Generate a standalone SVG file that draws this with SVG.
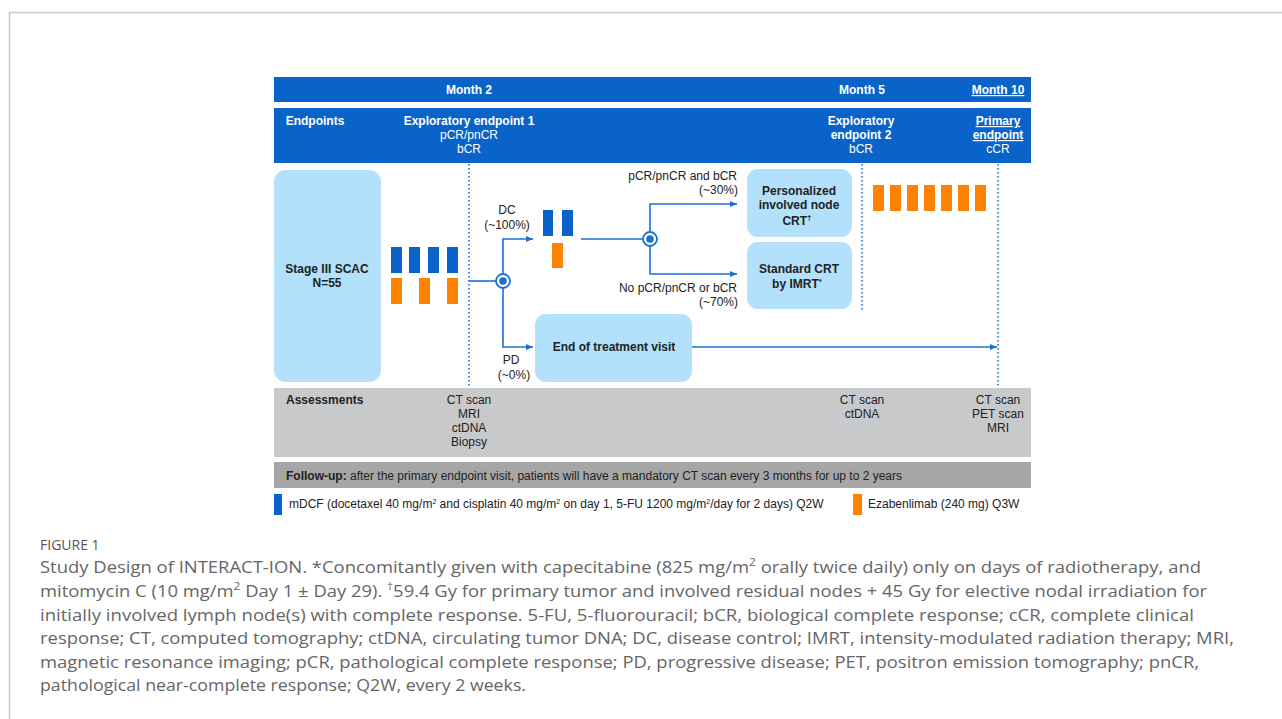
<svg xmlns="http://www.w3.org/2000/svg" width="1282" height="719" viewBox="0 0 1282 719">
<style>
.t{font-family:"Liberation Sans",Arial,sans-serif;font-size:12px;fill:#222}
.w{fill:#fff}
.b{font-weight:bold}
.m{text-anchor:middle}
.e{text-anchor:end}
.u{text-decoration:underline}
.lb{fill:#b3e0fa}
.bl{fill:#0a63c9}
.or{fill:#ff8200}
.cn{stroke:#1a6fd6;stroke-width:1.6;fill:none}
.dot{stroke:#1a6fd6;stroke-width:1.6;stroke-dasharray:1.5 2.5;fill:none}
.cap{font-family:"Open Sans",Lato,sans-serif;fill:#666;font-size:17px}
</style>
<defs>
<marker id="ar" markerWidth="8" markerHeight="8" refX="7" refY="4" orient="auto" markerUnits="userSpaceOnUse">
<path d="M0,1 L7,4 L0,7 Z" fill="#1a6fd6"/>
</marker>
</defs>
<rect width="1282" height="719" fill="#fff"/>
<path d="M9.5,719 V12.5 H1282" stroke="#c8c8c8" stroke-width="1.5" fill="none"/>

<g id="header">
<rect x="274" y="77" width="757" height="25" class="bl"/>
<text x="469" y="94" class="t w b m">Month 2</text>
<text x="862" y="94" class="t w b m">Month 5</text>
<text x="998" y="94" class="t w b m u">Month 10</text>
<rect x="274" y="108" width="757" height="55" class="bl"/>
<text x="315" y="125" class="t w b m">Endpoints</text>
<text x="469" y="125" class="t w b m">Exploratory endpoint 1</text>
<text x="469" y="139" class="t w m">pCR/pnCR</text>
<text x="469" y="153" class="t w m">bCR</text>
<text x="861" y="125" class="t w b m">Exploratory</text>
<text x="861" y="139" class="t w b m">endpoint 2</text>
<text x="861" y="153" class="t w m">bCR</text>
<text x="998" y="125" class="t w b m u">Primary</text>
<text x="998" y="139" class="t w b m u">endpoint</text>
<text x="998" y="153" class="t w m">cCR</text>
</g>

<g id="timelines">
<line x1="469" y1="164" x2="469" y2="388" class="dot"/>
<line x1="862" y1="164" x2="862" y2="310" class="dot"/>
<line x1="998" y1="164" x2="998" y2="388" class="dot"/>
</g>

<g id="stage">
<rect x="274" y="170" width="107" height="212" rx="12" class="lb"/>
<text x="327" y="273" class="t b m">Stage III SCAC</text>
<text x="327" y="287" class="t b m">N=55</text>
</g>

<g id="induction-bars">
<rect x="391" y="247" width="11" height="26" class="bl"/>
<rect x="409" y="247" width="11" height="26" class="bl"/>
<rect x="428" y="247" width="11" height="26" class="bl"/>
<rect x="447" y="247" width="11" height="26" class="bl"/>
<rect x="391" y="278" width="11" height="26" class="or"/>
<rect x="419" y="278" width="11" height="26" class="or"/>
<rect x="447" y="278" width="11" height="26" class="or"/>
</g>

<g id="dc-bars">
<rect x="543" y="210" width="10" height="26" class="bl"/>
<rect x="562" y="210" width="11" height="26" class="bl"/>
<rect x="552" y="243" width="11" height="25" class="or"/>
</g>

<g id="personalized">
<rect x="747" y="169" width="105" height="68" rx="11" class="lb"/>
<text x="799" y="195" class="t b m">Personalized</text>
<text x="799" y="209" class="t b m">involved node</text>
<text x="797" y="225" class="t b m">CRT<tspan style="font-size:8px" dy="-5">†</tspan></text>
</g>

<g id="standard">
<rect x="747" y="242" width="105" height="67" rx="11" class="lb"/>
<text x="799" y="273" class="t b m">Standard CRT</text>
<text x="797" y="288" class="t b m">by IMRT<tspan style="font-size:8px" dy="-4">*</tspan></text>
</g>

<g id="maintenance-bars">
<rect x="873" y="185" width="11" height="26" class="or"/>
<rect x="890" y="185" width="11" height="26" class="or"/>
<rect x="907" y="185" width="11" height="26" class="or"/>
<rect x="924" y="185" width="11" height="26" class="or"/>
<rect x="941" y="185" width="11" height="26" class="or"/>
<rect x="958" y="185" width="11" height="26" class="or"/>
<rect x="975" y="185" width="11" height="26" class="or"/>
</g>

<g id="eot">
<rect x="535" y="314" width="157" height="68" rx="11" class="lb"/>
<text x="614" y="351" class="t b m">End of treatment visit</text>
</g>

<g id="connectors">
<line x1="469" y1="281" x2="496" y2="281" class="cn"/>
<path d="M503,274 V239 H533" class="cn" marker-end="url(#ar)"/>
<path d="M503,288 V347 H533" class="cn" marker-end="url(#ar)"/>
<circle cx="503" cy="281" r="7" fill="#fff" stroke="#1a6fd6" stroke-width="1.8"/>
<circle cx="503" cy="281" r="3.8" fill="#1a6fd6"/>
<line x1="581" y1="239" x2="643" y2="239" class="cn"/>
<path d="M650,232 V204 H737" class="cn" marker-end="url(#ar)"/>
<path d="M650,246 V274 H737" class="cn" marker-end="url(#ar)"/>
<circle cx="650" cy="239" r="7" fill="#fff" stroke="#1a6fd6" stroke-width="1.8"/>
<circle cx="650" cy="239" r="3.8" fill="#1a6fd6"/>
<line x1="692" y1="347" x2="997" y2="347" class="cn" marker-end="url(#ar)"/>
</g>

<g id="labels">
<text x="507" y="214" class="t m">DC</text>
<text x="507" y="229" class="t m">(~100%)</text>
<text x="511" y="364" class="t m">PD</text>
<text x="514" y="379" class="t m">(~0%)</text>
<text x="737" y="180" class="t e">pCR/pnCR and bCR</text>
<text x="738" y="194" class="t e">(~30%)</text>
<text x="737" y="292" class="t e">No pCR/pnCR or bCR</text>
<text x="738" y="306" class="t e">(~70%)</text>
</g>

<g id="assessments">
<rect x="274" y="388" width="757" height="69" fill="#c8c9cb"/>
<text x="286" y="404" class="t b">Assessments</text>
<text x="469" y="404" class="t m">CT scan</text>
<text x="469" y="418" class="t m">MRI</text>
<text x="469" y="432" class="t m">ctDNA</text>
<text x="469" y="446" class="t m">Biopsy</text>
<text x="862" y="404" class="t m">CT scan</text>
<text x="862" y="418" class="t m">ctDNA</text>
<text x="998" y="404" class="t m">CT scan</text>
<text x="998" y="418" class="t m">PET scan</text>
<text x="998" y="432" class="t m">MRI</text>
</g>

<g id="followup">
<rect x="274" y="462" width="757" height="26" fill="#a6a6a6"/>
<text x="286" y="480" class="t"><tspan class="b">Follow-up:</tspan> after the primary endpoint visit, patients will have a mandatory CT scan every 3 months for up to 2 years</text>
</g>

<g id="legend">
<rect x="274" y="494" width="8" height="21" class="bl"/>
<text x="289" y="508" class="t">mDCF (docetaxel 40 mg/m<tspan style="font-size:7px" dy="-4">2</tspan><tspan dy="4"> and cisplatin 40 mg/m</tspan><tspan style="font-size:7px" dy="-4">2</tspan><tspan dy="4"> on day 1, 5-FU 1200 mg/m</tspan><tspan style="font-size:7px" dy="-4">2</tspan><tspan dy="4">/day for 2 days) Q2W</tspan></text>
<rect x="853" y="494" width="9" height="21" class="or"/>
<text x="868" y="508" class="t">Ezabenlimab (240 mg) Q3W</text>
</g>

<g id="caption">
<text x="40" y="550" class="cap" style="font-size:14px;fill:#555">FIGURE 1</text>
<text x="40" y="573" class="cap" textLength="1161" lengthAdjust="spacingAndGlyphs">Study Design of INTERACT-ION. *Concomitantly given with capecitabine (825 mg/m<tspan style="font-size:11px" dy="-7">2</tspan><tspan dy="7"> orally twice daily) only on days of radiotherapy, and</tspan></text>
<text x="40" y="597" class="cap" textLength="1167" lengthAdjust="spacingAndGlyphs">mitomycin C (10 mg/m<tspan style="font-size:11px" dy="-7">2</tspan><tspan dy="7"> Day 1 ± Day 29). </tspan><tspan style="font-size:11px" dy="-7">†</tspan><tspan dy="7">59.4 Gy for primary tumor and involved residual nodes + 45 Gy for elective nodal irradiation for</tspan></text>
<text x="40" y="621" class="cap" textLength="1154" lengthAdjust="spacingAndGlyphs">initially involved lymph node(s) with complete response. 5-FU, 5-fluorouracil; bCR, biological complete response; cCR, complete clinical</text>
<text x="40" y="644" class="cap" textLength="1194" lengthAdjust="spacingAndGlyphs">response; CT, computed tomography; ctDNA, circulating tumor DNA; DC, disease control; IMRT, intensity-modulated radiation therapy; MRI,</text>
<text x="40" y="668" class="cap" textLength="1159" lengthAdjust="spacingAndGlyphs">magnetic resonance imaging; pCR, pathological complete response; PD, progressive disease; PET, positron emission tomography; pnCR,</text>
<text x="40" y="691" class="cap" textLength="486" lengthAdjust="spacingAndGlyphs">pathological near-complete response; Q2W, every 2 weeks.</text>
</g>
</svg>
